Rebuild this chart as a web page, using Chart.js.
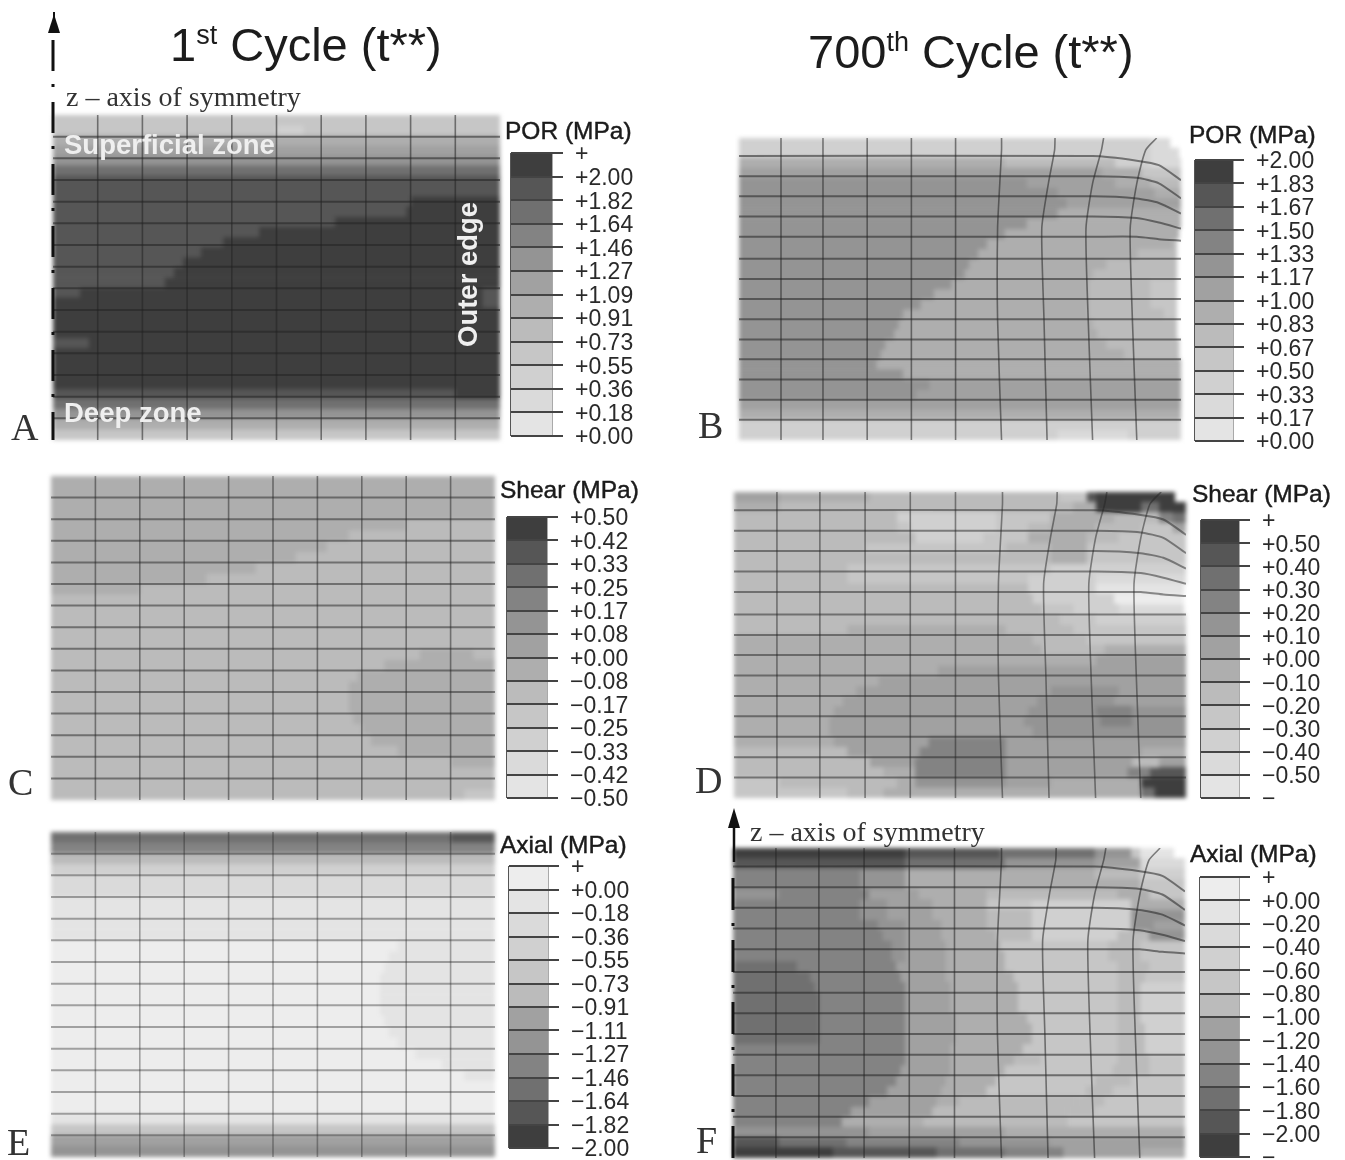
<!DOCTYPE html>
<html>
<head>
<meta charset="utf-8">
<title>Contour plots</title>
<script src="https://cdn.jsdelivr.net/npm/chart.js@4/dist/chart.umd.min.js"></script>
<style>
  html, body { margin: 0; background: #fff; }
  #page { position: relative; width: 1345px; height: 1160px; overflow: hidden; font-family: "Liberation Sans", sans-serif; color: #1c1c1c; filter: blur(0.5px); }
  canvas, .txt, svg { position: absolute; }
  canvas.contour { filter: blur(2px); }
  .txt { white-space: nowrap; line-height: 1; }
  .main { font-size: 47px; }
  .main sup { font-size: 27px; line-height: 0; vertical-align: 17px; }
  .unit { font-size: 24.5px; -webkit-text-stroke: 0.4px #111; }
  .serif { font-family: "Liberation Serif", serif; }
  .letter { font-family: "Liberation Serif", serif; font-size: 38px; color: #333; }
  .zone { font-size: 27.5px; font-weight: bold; color: #efefef; }
</style>
</head>
<body>
<div id="page">
  <div class="txt main" style="left:170px;top:21px">1<sup>st</sup> Cycle (t**)</div>
  <div class="txt main" style="left:808px;top:28px">700<sup>th</sup> Cycle (t**)</div>
  <div class="txt serif" style="left:66px;top:83px;font-size:28px;color:#333">z – axis of symmetry</div>
  <div class="txt serif" style="left:750px;top:818px;font-size:28px;color:#333">z – axis of symmetry</div>
  <div class="txt letter" style="left:11px;top:408px">A</div>
  <div class="txt letter" style="left:698px;top:406px">B</div>
  <div class="txt letter" style="left:8px;top:763px">C</div>
  <div class="txt letter" style="left:695px;top:761px">D</div>
  <div class="txt letter" style="left:7px;top:1123px">E</div>
  <div class="txt letter" style="left:696px;top:1121px">F</div>
  <div class="txt unit" style="left:505px;top:119px">POR (MPa)</div>
  <div class="txt unit" style="left:1189px;top:123px">POR (MPa)</div>
  <div class="txt unit" style="left:500px;top:478px">Shear (MPa)</div>
  <div class="txt unit" style="left:1192px;top:482px">Shear (MPa)</div>
  <div class="txt unit" style="left:500px;top:833px">Axial (MPa)</div>
  <div class="txt unit" style="left:1190px;top:842px">Axial (MPa)</div>
</div>
<script>
// grey level of each contour band, 0 is the lightest
const bandGreys = [237, 228, 218, 208, 198, 187, 174, 161, 148, 131, 112, 86, 62]

// contour rows, top to bottom: band, right end (% of width), band, right end ...
const rowsA = [
  [4,100], [4,50,3,56,4,100], [6,100], [7,100], [8,100], [10,100], [11,100], [11,100],
  [11,80,12,100], [11,79,12,100], [11,63,12,100], [11,46,12,100], [11,38,12,100], [11,33,12,100],
  [11,29,12,100], [11,27,12,100], [11,25,12,100], [11,6,12,96,11,100], [12,96,11,100], [12,100],
  [12,100], [12,100], [11,8,12,100], [12,100], [12,100], [12,100], [12,100], [11,90,12,100],
  [10,100], [8,100], [6,100], [4,100]
]
const rowsB = [
  [3,93,2,97.5], [3,93,2,99.5], [6,60,5,85,3,93,2,100], [7,82,6,91,4,100], [8,65,7,85,6,93,5,100],
  [8,72,7,94,6,100], [8,74,7,100], [8,72,6,100], [8,65,6,100], [8,60,6,99.5],
  [8,56,6,98,5,99], [8,54,6,90,5,99], [8,52,6,83,5,99], [8,51,6,80,5,99], [8,48,6,79,5,93,4,99],
  [8,44,6,79,5,93,4,99], [8,41,6,79,5,93,4,99], [8,37,6,79,5,96,4,99], [8,36,6,80,5,99], [8,35,6,81,5,99],
  [8,33,6,83,5,99.5], [8,32,6,87,5,99.5], [8,31,6,100], [8,37,6,100], [8,43,7,100],
  [8,40,7,100], [7,100], [6,100], [3,100], [3,72,2,88,3,100]
]
const rowsC = [
  [6,100], [6,100], [6,100], [6,100], [6,80,5,100], [6,67,5,100], [6,62,5,100], [6,55,5,100],
  [6,46,5,100], [6,35,5,100], [6,20,5,100], [5,100], [5,100], [5,100], [5,100], [5,100],
  [5,83,6,95,5,100], [5,75,6,100], [5,69,6,100], [5,67,6,100], [5,67,6,100], [5,67,6,100],
  [5,68,6,100], [5,70,6,100], [5,72,6,100], [5,78,6,100], [5,90,6,100], [5,100], [5,100], [5,93,4,100]
]
const rowsD = [
  [7,10,6,30,5,72,4,78,11,80,12,97.5], [6,10,5,75,6,80,12,90,10,94,12,100], [5,36,3,58,4,70,6,84,5,94,9,97,10,100],
  [5,36,4,39,3,58,4,65,5,70,6,80,5,90,4,97,7,100], [5,40,3,55,4,65,6,78,5,85,4,100], [5,29,4,60,5,70,6,78,4,100],
  [5,70,6,78,4,100], [5,25,4,70,3,100], [5,25,4,65,3,80,2,100], [5,65,3,80,1,99.5],
  [5,66,3,84,0,99.5], [5,68,4,75,3,85,2,99.5], [5,72,4,80,3,100], [5,25,6,60,5,75,4,100], [6,66,5,78,4,100],
  [6,68,5,82,6,100], [6,80,7,100], [6,45,7,100], [6,32,7,100], [6,27,7,70,8,85,7,100],
  [6,24,7,67,8,84,7,100], [6,22,7,65,8,80,9,88,8,100], [6,21,7,64,8,81,9,88,8,100], [6,21,7,66,8,100], [6,22,7,43,9,60,7,100],
  [5,25,7,41,9,60,7,90,6,100], [5,30,7,40,9,60,7,88,5,94,7,100], [5,33,6,40,9,60,7,87,9,92,11,100],
  [4,10,5,36,6,40,8,60,7,70,6,90,12,100], [4,25,5,33,6,90,10,93,12,100]
]
const rowsE = [
  [10,90,11,100], [9,100], [5,100], [3,100], [2,100], [2,100], [1,100], [1,100], [1,100], [1,100],
  [0,78,1,100], [0,76,1,100], [0,75,1,100], [0,74,1,100], [0,74,1,100], [0,74,1,100], [0,74,1,100],
  [0,75,1,100], [0,76,1,100], [0,78,1,100], [0,82,1,100], [0,88,1,100], [0,93,1,100],
  [0,100], [0,100], [0,100], [1,100], [4,100], [7,100], [8,100]
]
const rowsF = [
  [12,38,11,59,10,80,8,88,4,90,1,97.5], [11,38,10,60,8,80,7,90,2,100], [9,28,8,38,6,80,5,90,3,100],
  [9,28,8,38,6,90,4,100], [8,10,9,30,7,41,6,56,5,85,6,92,4,100], [9,28,8,34,7,44,6,56,4,66,3,88,6,100],
  [9,28,8,34,7,44,6,56,5,66,3,88,8,100], [9,32,8,38,7,46,6,56,5,66,3,88,8,93,7,100], [9,33,8,38,7,46,6,58,5,66,3,85,5,92,8,100],
  [9,35,8,38,7,47,6,59,4,83,5,90,4,100], [9,35,8,38,7,47,6,60,4,83,5,90,4,100], [10,14,9,36,7,47,6,60,4,85,5,92,4,100],
  [10,17,9,37,7,47,6,62,4,85,5,91,4,100], [10,18,9,38,7,48,6,63,4,85,5,90,3,100], [10,19,9,38,7,48,6,63,4,85,5,90,3,100],
  [10,19,9,38,7,48,6,63,4,85,5,90,3,100], [10,19,9,38,7,49,6,65,4,85,5,90,3,100], [10,19,9,38,7,49,6,66,4,85,5,91,3,100],
  [10,19,9,38,7,49,6,66,4,85,5,91,3,100], [9,38,7,48,6,64,4,85,5,91,3,100], [9,38,7,48,6,62,5,68,4,85,5,92,4,100],
  [9,37,7,48,6,60,4,84,5,92,4,100], [9,36,7,47,6,58,4,80,5,88,4,100], [9,34,7,46,6,56,4,78,5,84,4,100],
  [9,30,7,45,6,50,5,76,5,82,4,100], [9,26,7,44,5,74,5,80,4,100], [9,24,6,42,5,74,4,100],
  [8,30,7,60,6,100], [11,10,10,25,9,50,8,70,7,100], [12,22,11,45,10,60,9,73,7,90,6,100]
]

// flat mesh of panels A, C, E (% of width, % of height)
const meshCols = [10, 20, 30, 40, 50, 60, 70, 80, 90]
const meshRows = [6.67, 13.33, 20, 26.67, 33.33, 40, 46.67, 53.33, 60, 66.67, 73.33, 80, 86.67, 93.33]

// deformed mesh of panels B, D, F
const deformColYs = [0, 4, 15, 30, 60, 100]
const deformCols = [
  [9.5, 9.5, 9.5, 9.5, 9.5, 9.5], [19, 19, 19, 19, 19, 19], [29, 29, 29, 29, 29, 29], [39, 39, 39, 39, 39, 39],
  [49, 49, 49, 49, 49, 49], [59.4, 59.4, 59, 58.5, 58.5, 59.4], [71.5, 71.4, 70, 68.5, 69, 69.7],
  [82.5, 82, 80, 78.5, 79, 80], [94.5, 92, 90, 88.5, 89, 90]
]
const deformRowXs = [0, 80, 90, 95, 100]
const deformRows = [
  [6, 6, 7.5, 9, 14], [12.7, 12.7, 13.2, 15, 20], [19.3, 19.3, 20, 21.5, 25], [26, 26, 26.5, 28, 30], [32.7, 32.7, 32.7, 33.5, 34],
  [40, 40, 40, 40, 40], [46.7, 46.7, 46.7, 46.7, 46.7], [53.3, 53.3, 53.3, 53.3, 53.3], [60, 60, 60, 60, 60],
  [66.7, 66.7, 66.7, 66.7, 66.7], [73.3, 73.3, 73.3, 73.3, 73.3], [80, 80, 80, 80, 80], [86.7, 86.7, 86.7, 86.7, 86.7], [93.3, 93.3, 93.3, 93.3, 93.3]
]

// legend bands bottom to top and tick labels top to bottom
const bandsDarkTop = [1, 2, 3, 4, 5, 6, 7, 8, 9, 10, 11, 12]
const bandsLightTop = [12, 11, 10, 9, 8, 7, 5, 4, 3, 2, 1, 0]
const ticksA = ['+', '+2.00', '+1.82', '+1.64', '+1.46', '+1.27', '+1.09', '+0.91', '+0.73', '+0.55', '+0.36', '+0.18', '+0.00']
const ticksB = ['+2.00', '+1.83', '+1.67', '+1.50', '+1.33', '+1.17', '+1.00', '+0.83', '+0.67', '+0.50', '+0.33', '+0.17', '+0.00']
const ticksC = ['+0.50', '+0.42', '+0.33', '+0.25', '+0.17', '+0.08', '+0.00', '−0.08', '−0.17', '−0.25', '−0.33', '−0.42', '−0.50']
const ticksD = ['+', '+0.50', '+0.40', '+0.30', '+0.20', '+0.10', '+0.00', '−0.10', '−0.20', '−0.30', '−0.40', '−0.50', '−']
const ticksE = ['+', '+0.00', '−0.18', '−0.36', '−0.55', '−0.73', '−0.91', '−1.11', '−1.27', '−1.46', '−1.64', '−1.82', '−2.00']
const ticksF = ['+', '+0.00', '−0.20', '−0.40', '−0.60', '−0.80', '−1.00', '−1.20', '−1.40', '−1.60', '−1.80', '−2.00', '−']

const grey = (band) => {
  const g = bandGreys[band]
  return `rgb(${g},${g},${g})`
}

const page = document.getElementById('page')

const addCanvas = (left, top, width, height, cls) => {
  const c = document.createElement('canvas')
  if (cls) c.className = cls
  c.style.left = left + 'px'
  c.style.top = top + 'px'
  c.style.width = width + 'px'
  c.style.height = height + 'px'
  page.appendChild(c)
  return c
}

// every row's nth segment goes in the nth dataset
const contourDatasets = (rows) => {
  const result = []
  const maxSegs = Math.max(...rows.map(r => r.length / 2))
  for (let j = 0; j < maxSegs; j++) {
    const data = []
    const colors = []
    rows.forEach((r) => {
      if (j * 2 < r.length) {
        data.push([j ? r[j * 2 - 1] : 0, r[j * 2 + 1]])
        colors.push(grey(r[j * 2]))
      } else {
        data.push(null)
        colors.push('#fff')
      }
    })
    result.push({
      grouped: false, data, backgroundColor: colors,
      barPercentage: 1, categoryPercentage: 1, borderWidth: 0
    })
  }
  return result
}

const meshLine = (points, width, alpha) => ({
  data: points, borderColor: `rgba(35,35,35,${alpha})`, borderWidth: width, pointRadius: 0, tension: 0.2, fill: false
})

const flatMesh = (alpha) => [
  ...meshCols.map(x => meshLine([{ x, y: 0 }, { x, y: 100 }], 1.6, alpha)),
  ...meshRows.map(y => meshLine([{ x: 0, y }, { x: 100, y }], 2, alpha))
]

const bentMesh = (alpha) => [
  ...deformCols.map(col => meshLine(col.map((x, i) => ({ x, y: deformColYs[i] })), 1.6, alpha)),
  ...deformRows.map(row => meshLine(row.map((y, i) => ({ x: deformRowXs[i], y })), 2, alpha))
]

const baseOptions = {
  responsive: false, animation: false, events: [],
  layout: { padding: 0, autoPadding: false },
  plugins: { legend: { display: false }, tooltip: { enabled: false } }
}

const makePanel = (rows, mesh, box) => {
  new Chart(addCanvas(box[0], box[1], box[2], box[3], 'contour'), {
    type: 'bar',
    data: { labels: rows.map((r, i) => i), datasets: contourDatasets(rows) },
    options: {
      ...baseOptions,
      indexAxis: 'y',
      scales: {
        x: { type: 'linear', min: 0, max: 100, display: false },
        y: { type: 'category', offset: true, display: false }
      }
    }
  })
  new Chart(addCanvas(box[0], box[1], box[2], box[3]), {
    type: 'line',
    data: { datasets: mesh },
    options: {
      ...baseOptions,
      scales: {
        x: { type: 'linear', min: 0, max: 100, display: false },
        y: { type: 'linear', min: 0, max: 100, reverse: true, display: false }
      }
    }
  })
}

const makeLegend = (bands, ticks, bar) => {
  const axisW = 90
  // half a tick label plus the tick padding keeps the scale this far from the canvas edge
  const pad = 26
  const canvas = addCanvas(bar[0] - 2, bar[1] - pad, bar[2] + axisW + 2, bar[3] + pad * 2)
  new Chart(canvas, {
    type: 'bar',
    data: {
      labels: [''],
      datasets: bands.map(b => ({
        data: [1], backgroundColor: grey(b), barPercentage: 1, categoryPercentage: 1, borderWidth: 0
      }))
    },
    options: {
      ...baseOptions,
      layout: { padding: { left: 2 }, autoPadding: false },
      scales: {
        x: {
          stacked: true,
          ticks: { display: false },
          grid: { color: '#555', lineWidth: 1.5, drawTicks: false },
          border: { display: false },
          afterFit: (s) => { s.height = 0 }
        },
        y: {
          stacked: true, position: 'right', min: 0, max: 12,
          ticks: {
            stepSize: 1, autoSkip: false, padding: 12, labelOffset: 2, color: '#2a2a2a',
            font: { family: '"Liberation Sans"', size: 23, lineHeight: '28px' },
            callback: (v) => ticks[12 - v]
          },
          grid: { color: '#444', lineWidth: 2, tickLength: 11, z: 1 },
          border: { display: false },
          afterFit: (s) => { s.width = axisW }
        }
      }
    }
  })
}

makePanel(rowsA, flatMesh(0.55), [53, 115, 447, 325])
makePanel(rowsB, bentMesh(0.55), [739, 138, 442, 302])
makePanel(rowsC, flatMesh(0.5), [51, 476, 444, 324])
makePanel(rowsD, bentMesh(0.5), [734, 492, 452, 306])
makePanel(rowsE, flatMesh(0.38), [51, 832, 444, 325])
makePanel(rowsF, bentMesh(0.55), [733, 848, 452, 310])

makeLegend(bandsDarkTop, ticksA, [511, 153, 41, 283])
makeLegend(bandsDarkTop, ticksB, [1195, 160, 38, 281])
makeLegend(bandsDarkTop, ticksC, [507, 517, 40, 281])
makeLegend(bandsDarkTop, ticksD, [1201, 520, 38, 278])
makeLegend(bandsLightTop, ticksE, [509, 866, 39, 282])
makeLegend(bandsLightTop, ticksF, [1200, 877, 39, 280])

// white labels and the symmetry axes sit above the charts
const addZone = (text, css) => {
  const d = document.createElement('div')
  d.className = 'txt zone'
  d.style.cssText = css
  d.textContent = text
  page.appendChild(d)
}
addZone('Superficial zone', 'left:64px;top:131px')
addZone('Deep zone', 'left:64px;top:399px')
addZone('Outer edge', 'left:454px;top:347px;transform-origin:0 0;transform:rotate(-90deg)')

const svg = document.createElementNS('http://www.w3.org/2000/svg', 'svg')
svg.setAttribute('width', 1345)
svg.setAttribute('height', 1160)
svg.style.left = '0px'
svg.style.top = '0px'
svg.innerHTML = `
  <line x1="53" y1="40" x2="53" y2="440" stroke="#111" stroke-width="3" stroke-dasharray="31 13 3 15"/>
  <line x1="54" y1="12" x2="54" y2="32" stroke="#111" stroke-width="2"/>
  <polygon points="54,14 48,33 60,33" fill="#111"/>
  <line x1="734" y1="815" x2="734" y2="862" stroke="#111" stroke-width="2.5"/>
  <polygon points="734,808 728,828 740,828" fill="#111"/>
  <line x1="733" y1="878" x2="733" y2="1158" stroke="#111" stroke-width="3" stroke-dasharray="32 13 3 14"/>`
page.appendChild(svg)
</script>
</body>
</html>
